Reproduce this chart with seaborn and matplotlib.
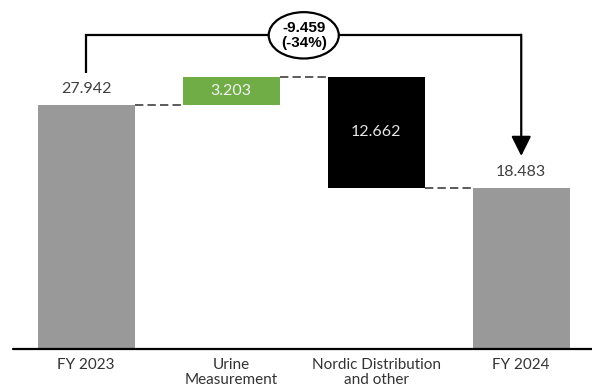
import matplotlib
matplotlib.use("Agg")
import matplotlib.pyplot as plt
import seaborn as sns
import numpy as np

categories = ["FY 2023", "Urine\nMeasurement", "Nordic Distribution\nand other", "FY 2024"]
start_value = 27.942
changes = [3.203, -12.662]
end_value = 18.483
bar_colors = ["#999999", "#70AD47", "#000000", "#999999"]
value_text_colors = ["#404040", "#F2F2F2", "#E6E6E6", "#404040"]

# build waterfall geometry from the values
bottoms = [0.0]
heights = [start_value]
running = start_value
for c in changes:
    new = running + c
    bottoms.append(min(running, new))
    heights.append(abs(c))
    running = new
bottoms.append(0.0)
heights.append(end_value)
labels = [f"{start_value:.3f}"] + [f"{abs(c):.3f}" for c in changes] + [f"{end_value:.3f}"]
delta = end_value - start_value
pct = delta / start_value * 100

sns.set_theme(style="white")
plt.rcParams["font.family"] = ["Lato", "DejaVu Sans"]

fig = plt.figure(figsize=(5.92, 3.89), dpi=100)
ax = fig.add_axes([0.022, 0.102, 0.978, 0.898])

W = 0.672
sns.barplot(x=categories, y=heights, bottom=bottoms, color="#999999",
            width=W, ax=ax, linewidth=0, saturation=1)
for p, col in zip(ax.patches, bar_colors):
    p.set_facecolor(col)
    p.set_edgecolor("none")

ax.set_xlim(-0.505, 3.488)
ax.set_ylim(0, 39.95)
for s in ax.spines.values():
    s.set_visible(False)
ax.set_yticks([])
ax.axhline(0, color="black", lw=1.6, clip_on=False, zorder=5)
ax.tick_params(axis="x", length=0, pad=6.5, labelsize=11, labelcolor="#333333")
for t in ax.get_xticklabels():
    t.set_linespacing(1.05)

# connectors
levels = [start_value, start_value + changes[0], end_value]
for i, lv in enumerate(levels):
    ax.plot([i + W / 2, i + 1 - W / 2], [lv, lv], color="#404040", lw=1.2,
            linestyle=(0, (5, 2.5)))

# value labels
for i, (b, h, lab, tc) in enumerate(zip(bottoms, heights, labels, value_text_colors)):
    if i in (0, 3):
        ax.annotate(lab, (i, b + h), xytext=(0, 11.5), textcoords="offset points",
                    ha="center", va="center", fontsize=11.5, color=tc)
    else:
        ax.text(i, b + h / 2, lab, ha="center", va="center", fontsize=11.5, color=tc)

# bracket annotation
y_top = 35.91
ax.plot([0, 0, 3, 3], [31.64, y_top, y_top, y_top], color="black", lw=1.6,
        solid_capstyle="butt", solid_joinstyle="miter")
ax.annotate("", xy=(3, 22.11), xytext=(3, y_top + 0.08),
            arrowprops=dict(arrowstyle="-|>,head_length=1.0,head_width=0.5",
                            color="black", lw=1.6, shrinkA=0, shrinkB=0))
ax.text(1.5, y_top, f"{delta:.3f}\n({pct:.0f}%)", ha="center", va="center",
        fontsize=11, fontweight="bold", color="black", linespacing=1.1,
        family=["Liberation Sans", "DejaVu Sans"],
        bbox=dict(boxstyle="ellipse,pad=0.12", fc="white", ec="black", lw=1.6))

fig.savefig("out.png", dpi=100)
